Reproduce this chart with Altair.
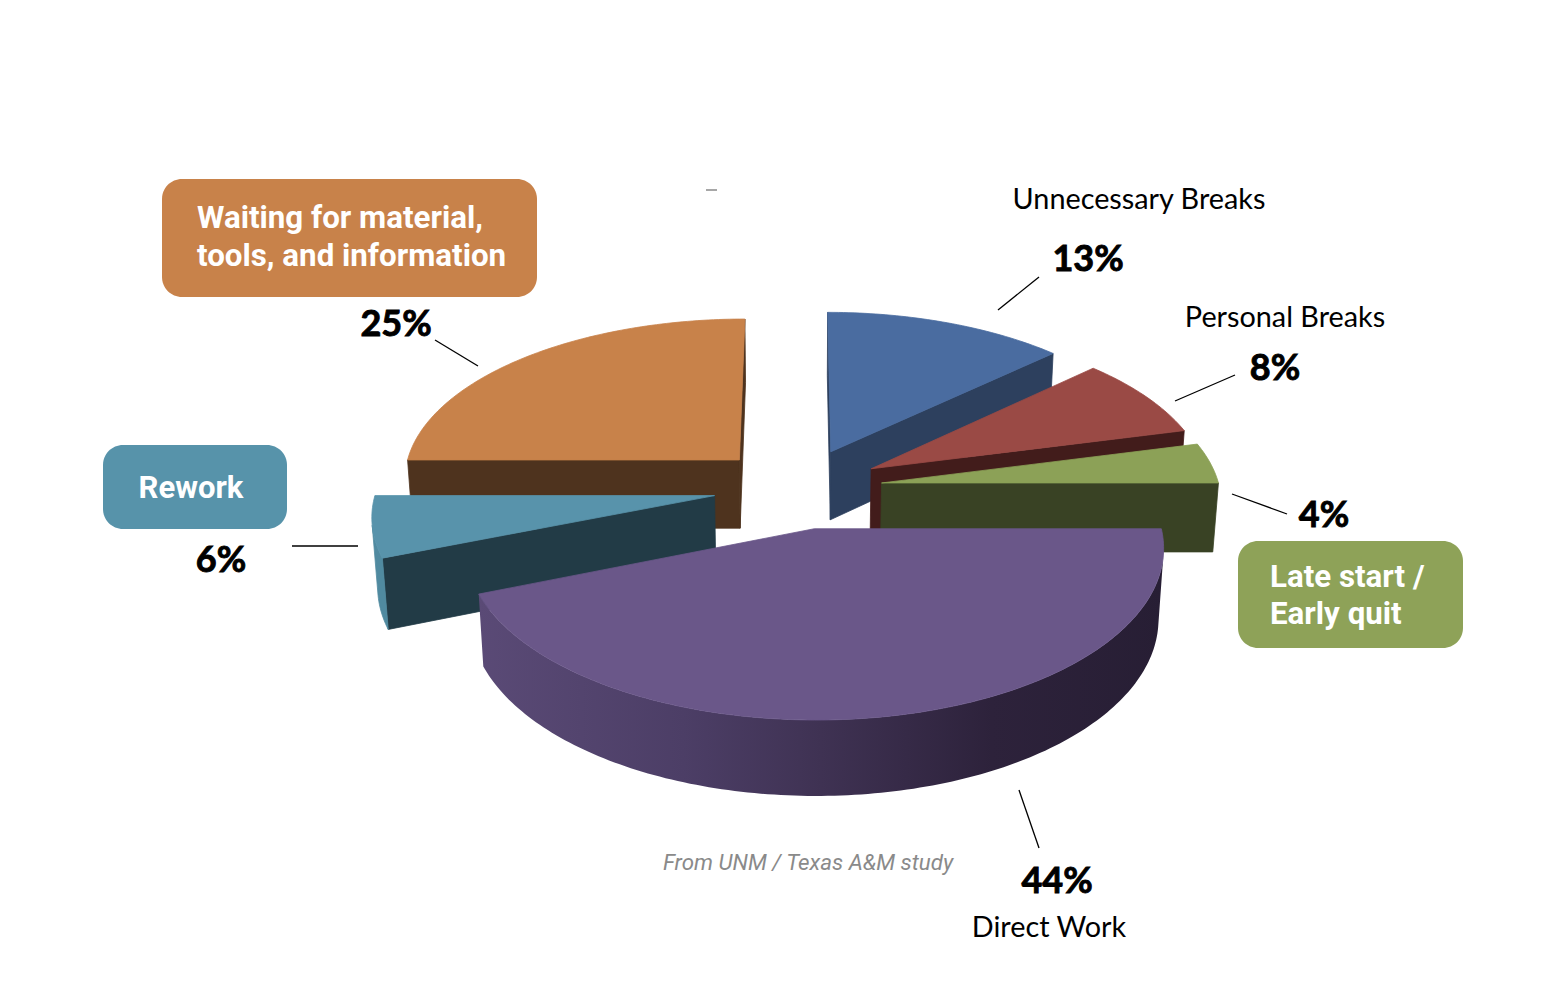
import numpy as np
import pandas as pd
import altair as alt

# ------------------------------------------------------------------ data
categories = ["Direct Work", "Rework", "Waiting for material, tools, and information",
              "Unnecessary Breaks", "Personal Breaks", "Late start / Early quit"]
shares = [44, 6, 25, 13, 8, 4]          # percent, clockwise from 3 o'clock
pct_labels = [f"{v}%" for v in shares]

# ------------------------------------------------------------------ style
top_colors = ["#6A5789", "#5893AB", "#C8824A", "#4A6CA0", "#9A4A45", "#8CA157"]
cut_colors = ["#3B2E4E", "#223B46", "#4E331E", "#2D405E", "#421C1B", "#394224"]
wall_colors = ["#3F3254", "#508AA0", "#A0663A", "#3A5480", "#6A2C2A", "#5E6E35"]
purple_wall_stops = [("#5A4A76", 0.0), ("#4C3E66", 0.3), ("#3F3253", 0.5),
                     ("#2D223B", 0.75), ("#271E34", 1.0)]

# 3-D pie view parameters (layout, not data)
EXPLODE = 0.25
THICK = 0.236
DCAM = 8.25
SPHI = 0.478
CPHI = float(np.sqrt(1 - SPHI ** 2))
KPX = 338.0
OX, OY = 798.0, 488.0
CAM = np.array([0.0, DCAM * SPHI, -DCAM * CPHI])


def proj(p):
    X, Y, Z = p
    w = 1 + (Z * CPHI - Y * SPHI) / DCAM
    return OX + KPX * X / w, OY - KPX * (Z * SPHI + Y * CPHI) / w


xs = alt.Scale(domain=[8, 1544], nice=False, zero=False)
ys = alt.Scale(domain=[8, 983], nice=False, zero=False, reverse=True)


def X(f):
    return alt.X(f, type="quantitative", scale=xs, axis=None)


def Y(f):
    return alt.Y(f, type="quantitative", scale=ys, axis=None)


# ------------------------------------------------------------------ geometry of slices
edges = np.radians(np.concatenate([[0.0], np.cumsum(shares)]) * 360.0 / sum(shares))
slices = []
for i in range(len(shares)):
    t1, t2 = edges[i], edges[i + 1]
    tm = 0.5 * (t1 + t2)
    cx, cz = EXPLODE * np.cos(tm), -EXPLODE * np.sin(tm)

    def P(th, r, yv, cx=cx, cz=cz):
        return np.array([cx + r * np.cos(th), yv, cz - r * np.sin(th)])

    faces = []
    for th, sgn in ((t1, 1.0), (t2, -1.0)):
        n = sgn * np.array([np.sin(th), 0.0, np.cos(th)])
        if n @ (CAM - P(th, 0.5, -THICK / 2)) > 0:
            faces.append(([P(th, 0, 0), P(th, 1, 0), P(th, 1, -THICK), P(th, 0, -THICK)],
                          cut_colors[i], "cut"))
    nseg = max(8, int(np.degrees(t2 - t1)))
    ths = np.linspace(t1, t2, nseg + 1)
    mids = 0.5 * (ths[:-1] + ths[1:])
    vis = np.array([np.array([np.cos(m), 0.0, -np.sin(m)]) @ (CAM - P(m, 1, -THICK / 2)) > 0
                    for m in mids])
    idx = np.where(vis)[0]
    if len(idx):
        a, b = idx.min(), idx.max() + 1
        run = ths[a:b + 1]
        pts = [P(th, 1, 0) for th in run] + [P(th, 1, -THICK) for th in run[::-1]]
        faces.append((pts, wall_colors[i], "wall"))
    top = [P(t1, 0, 0)] + [P(th, 1, 0) for th in ths]
    faces.append((top, top_colors[i], "top"))
    slices.append((cz, i, faces))

slices.sort(key=lambda s: -s[0])   # back to front

layers = []
for cz, i, faces in slices:
    for pts, col, kind in faces:
        xy = [proj(p) for p in pts]
        xy.append(xy[0])
        df = pd.DataFrame({"px": [q[0] for q in xy], "py": [q[1] for q in xy],
                           "o": list(range(len(xy))), "slice": categories[i]})
        if i == 0 and kind == "wall":
            grad = alt.LinearGradient(
                gradient="linear",
                stops=[alt.GradientStop(color=c, offset=o) for c, o in purple_wall_stops],
                x1=0, x2=1, y1=0, y2=0)
            mk = alt.Chart(df).mark_line(fill=grad, stroke="#3F3253", strokeOpacity=0,
                                         strokeWidth=0)
        else:
            mk = alt.Chart(df).mark_line(fill=col, stroke=col, strokeWidth=0.8,
                                         strokeJoin="round")
        layers.append(mk.encode(x=X("px"), y=Y("py"), order=alt.Order("o:Q")))

# ------------------------------------------------------------------ annotations
pct_x = [1057, 221, 396, 1088, 1275, 1324]
pct_y = [893, 572, 336, 271, 380, 527]
pct_df = pd.DataFrame({"x": pct_x, "y": pct_y, "t": pct_labels})
layers.append(alt.Chart(pct_df).mark_text(font="Lato", fontSize=36, fontWeight="bold",
                                          align="center", baseline="alphabetic",
                                          color="#000000", stroke="#000000",
                                          strokeWidth=0.9)
              .encode(x=X("x"), y=Y("y"), text="t:N"))

name_df = pd.DataFrame({"x": [1139, 1285, 1049], "y": [209, 327, 937],
                        "t": [categories[3], categories[4], categories[0]]})
layers.append(alt.Chart(name_df).mark_text(font="Lato", fontSize=28.8, align="center",
                                           baseline="alphabetic", color="#000000")
              .encode(x=X("x"), y=Y("y"), text="t:N"))

box_df = pd.DataFrame({"x": [162, 103, 1238], "x2": [537, 287, 1463],
                       "y": [179, 445, 541], "y2": [297, 529, 648],
                       "c": [top_colors[2], "#5793AA", "#8EA258"]})
layers.append(alt.Chart(box_df).mark_rect(cornerRadius=20)
              .encode(x=X("x"), x2="x2:Q", y=Y("y"), y2="y2:Q",
                      color=alt.Color("c:N", scale=None)))

box_text_left = pd.DataFrame({"x": [197, 197, 1270, 1270], "y": [228, 266, 587, 624],
                              "t": ["Waiting for material,", "tools, and information",
                                    "Late start /", "Early quit"]})
layers.append(alt.Chart(box_text_left).mark_text(font="Roboto", fontSize=31.3,
                                                 fontWeight="bold", align="left",
                                                 baseline="alphabetic", color="white")
              .encode(x=X("x"), y=Y("y"), text="t:N"))
box_text_c = pd.DataFrame({"x": [191], "y": [498], "t": [categories[1]]})
layers.append(alt.Chart(box_text_c).mark_text(font="Roboto", fontSize=31,
                                              fontWeight="bold", align="center",
                                              baseline="alphabetic", color="white")
              .encode(x=X("x"), y=Y("y"), text="t:N"))

lead_df = pd.DataFrame({"x": [1019, 292, 435, 998, 1235, 1232],
                        "y": [790, 546, 340, 310, 375, 494],
                        "x2": [1039, 358, 478, 1039, 1175, 1287],
                        "y2": [848, 546, 366, 277, 401, 514]})
layers.append(alt.Chart(lead_df).mark_rule(color="#000000", strokeWidth=1.3)
              .encode(x=X("x"), y=Y("y"), x2="x2:Q", y2="y2:Q"))

dash_df = pd.DataFrame({"x": [706], "x2": [717], "y": [190], "y2": [190]})
layers.append(alt.Chart(dash_df).mark_rule(color="#8A8A8A", strokeWidth=1.5)
              .encode(x=X("x"), y=Y("y"), x2="x2:Q", y2="y2:Q"))

src_df = pd.DataFrame({"x": [808], "y": [870], "t": ["From UNM / Texas A&M study"]})
layers.append(alt.Chart(src_df).mark_text(font="Roboto", fontSize=22.3, fontStyle="italic",
                                          align="center", baseline="alphabetic",
                                          color="#8A8A8A")
              .encode(x=X("x"), y=Y("y"), text="t:N"))

chart = (alt.layer(*layers)
         .properties(width=1536, height=975, padding=0,
                     autosize=alt.AutoSizeParams(type="none"), background="white")
         .configure_view(stroke=None))

chart.save("out.html", embed_options={"renderer": "svg", "actions": False})
